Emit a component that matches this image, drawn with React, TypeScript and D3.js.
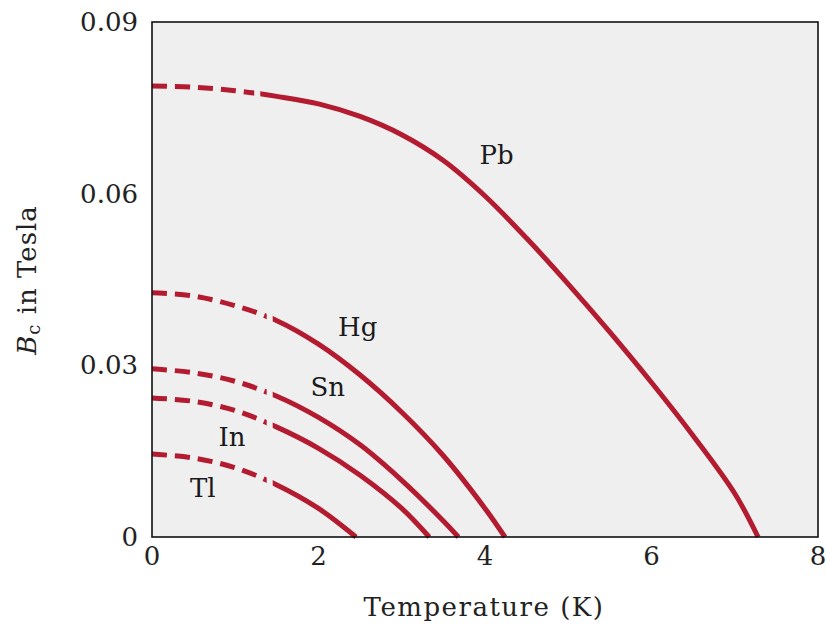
import { useEffect, useRef } from "react";
import * as d3 from "d3";

// critical field curves: [T in K, Bc in tesla]
const metals = ["Pb", "Hg", "Sn", "In", "Tl"];

const pbPoints = [
  [0, 0.0788], [0.5, 0.0786], [1.0, 0.078], [1.5, 0.077], [2.0, 0.0757],
  [2.5, 0.0735], [3.0, 0.0703], [3.5, 0.0658], [4.0, 0.0596], [4.5, 0.0522],
  [5.0, 0.0442], [5.5, 0.0358], [6.0, 0.027], [6.5, 0.0177], [7.0, 0.0076], [7.28, 0],
];
const hgPoints = [
  [0, 0.0427], [0.5, 0.0421], [1.0, 0.0404], [1.5, 0.0378], [2.0, 0.0337],
  [2.5, 0.0283], [3.0, 0.0218], [3.5, 0.0142], [4.0, 0.005], [4.24, 0],
];
const snPoints = [
  [0, 0.0294], [0.5, 0.0287], [1.0, 0.0272], [1.5, 0.0246], [2.0, 0.0209],
  [2.5, 0.0161], [3.0, 0.0099], [3.5, 0.0028], [3.68, 0],
];
const inPoints = [
  [0, 0.0243], [0.5, 0.0237], [1.0, 0.0221], [1.5, 0.0192], [2.0, 0.0155],
  [2.5, 0.0108], [3.0, 0.005], [3.33, 0],
];
const tlPoints = [
  [0, 0.0145], [0.5, 0.0138], [1.0, 0.0121], [1.5, 0.0091], [2.0, 0.005], [2.45, 0],
];
const curves = [pbPoints, hgPoints, snPoints, inPoints, tlPoints];

// below this temperature the curve is drawn dashed (extrapolated)
const dashEnd = [1.3, 1.45, 1.45, 1.45, 1.45];

// label anchor [T, B]
const labelPos = [
  [4.14, 0.0668], [2.47, 0.0367], [2.11, 0.0262], [0.96, 0.0175], [0.61, 0.0085],
];

const xTicks = [0, 2, 4, 6, 8];
const yTicks = [0, 0.03, 0.06, 0.09];

export default function App() {
  const ref = useRef<SVGSVGElement>(null);

  useEffect(() => {
    const svg = d3.select(ref.current);
    svg.selectAll("*").remove();

    const left = 152;
    const right = 818;
    const top = 22;
    const bottom = 537;
    const font = "'DejaVu Serif', serif";
    const red = "#b31b30";

    const x = d3.scaleLinear().domain([0, 8]).range([left, right]);
    const y = d3.scaleLinear().domain([0, 0.09]).range([bottom, top]);

    svg
      .append("rect")
      .attr("x", left)
      .attr("y", top)
      .attr("width", right - left)
      .attr("height", bottom - top)
      .attr("fill", "#efefef");

    const line = d3
      .line<number[]>()
      .x((d) => x(d[0]))
      .y((d) => y(d[1]))
      .curve(d3.curveCatmullRom.alpha(0.5));

    const defs = svg.append("defs");

    curves.forEach((pts, i) => {
      const cx = x(dashEnd[i]);
      defs
        .append("clipPath")
        .attr("id", "dashPart" + i)
        .append("rect")
        .attr("x", 0)
        .attr("y", 0)
        .attr("width", cx - 6)
        .attr("height", 634);
      defs
        .append("clipPath")
        .attr("id", "solidPart" + i)
        .append("rect")
        .attr("x", cx)
        .attr("y", 0)
        .attr("width", 827 - cx)
        .attr("height", 634);

      svg
        .append("path")
        .attr("d", line(pts))
        .attr("fill", "none")
        .attr("stroke", red)
        .attr("stroke-width", 5)
        .attr("stroke-dasharray", "15,8")
        .attr("clip-path", "url(#dashPart" + i + ")");
      svg
        .append("path")
        .attr("d", line(pts))
        .attr("fill", "none")
        .attr("stroke", red)
        .attr("stroke-width", 5)
        .attr("clip-path", "url(#solidPart" + i + ")");
    });

    // frame
    svg
      .append("rect")
      .attr("x", left)
      .attr("y", top)
      .attr("width", right - left)
      .attr("height", bottom - top)
      .attr("fill", "none")
      .attr("stroke", "#111")
      .attr("stroke-width", 1.6);

    svg
      .append("g")
      .selectAll("text")
      .data(xTicks)
      .enter()
      .append("text")
      .attr("x", (d) => x(d))
      .attr("y", 556)
      .attr("text-anchor", "middle")
      .attr("dominant-baseline", "central")
      .attr("font-family", font)
      .attr("font-size", 26)
      .attr("fill", "#222")
      .text((d) => d);

    svg
      .append("g")
      .selectAll("text")
      .data(yTicks)
      .enter()
      .append("text")
      .attr("x", 138)
      .attr("y", (d) => y(d))
      .attr("text-anchor", "end")
      .attr("dominant-baseline", "central")
      .attr("font-family", font)
      .attr("font-size", 26)
      .attr("fill", "#222")
      .text((d) => (d === 0 ? "0" : d.toFixed(2)));

    svg
      .append("g")
      .selectAll("text")
      .data(metals)
      .enter()
      .append("text")
      .attr("x", (_, i) => x(labelPos[i][0]))
      .attr("y", (_, i) => y(labelPos[i][1]))
      .attr("text-anchor", "middle")
      .attr("dominant-baseline", "central")
      .attr("font-family", font)
      .attr("font-size", 26)
      .attr("fill", "#1a1a1a")
      .text((d) => d);

    svg
      .append("text")
      .attr("x", 484)
      .attr("y", 607)
      .attr("text-anchor", "middle")
      .attr("dominant-baseline", "central")
      .attr("font-family", font)
      .attr("font-size", 26)
      .attr("letter-spacing", 1.5)
      .attr("fill", "#222")
      .text("Temperature (K)");

    const yl = svg
      .append("text")
      .attr("transform", "translate(27,280) rotate(-90)")
      .attr("text-anchor", "middle")
      .attr("dominant-baseline", "central")
      .attr("font-family", font)
      .attr("font-size", 26)
      .attr("letter-spacing", 1)
      .attr("fill", "#222");
    yl.append("tspan").attr("font-style", "italic").text("B");
    yl.append("tspan").attr("font-size", 18).attr("dy", 6).text("c");
    yl.append("tspan").attr("dy", -6).text(" in Tesla");
  }, []);

  return (
    <svg
      ref={ref}
      width={827}
      height={634}
      style={{ position: "absolute", left: 0, top: 0, background: "#fff" }}
    />
  );
}
